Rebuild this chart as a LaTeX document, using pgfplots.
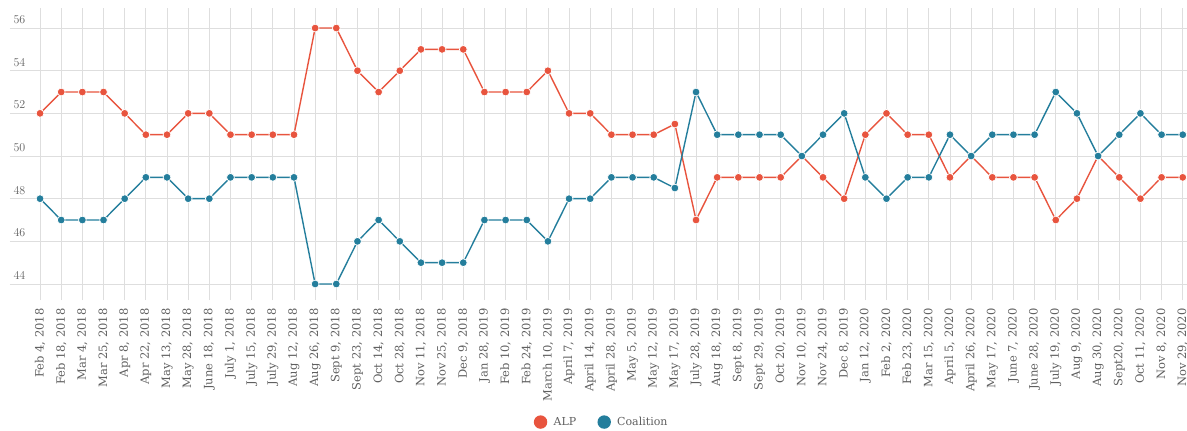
\documentclass[border=0pt]{standalone}
\usepackage{fontspec}
\setmainfont{DejaVu Serif}
\usepackage{pgfplots}
\pgfplotsset{compat=1.18}
\definecolor{alp}{RGB}{232,84,62}
\definecolor{coal}{RGB}{36,126,156}
\definecolor{gridc}{RGB}{222,222,222}
\definecolor{lab}{RGB}{95,95,95}
\begin{document}
\begin{tikzpicture}
\path[use as bounding box] (-10pt,-131pt) rectangle (1177pt,300pt);
\begin{axis}[
  at={(0,0)}, anchor=south west,
  scale only axis, width=1177pt, height=292pt,
  xmin=-1.42, xmax=54.2, ymin=43.25, ymax=56.94,
  axis line style={draw=none},
  major tick length=0pt,
  xmajorgrids, ymajorgrids,
  grid style={gridc, line width=0.8pt},
  ytick={44,46,48,50,52,54,56},
  yticklabel style={anchor=south west, xshift=0pt, yshift=1pt, font=\fontsize{11.5}{13}\selectfont, text=lab},
  xtick={0,...,54},
  xticklabels={{Feb 4, 2018},{Feb 18, 2018},{Mar 4, 2018},{Mar 25, 2018},{Apr 8, 2018},{Apr 22, 2018},{May 13, 2018},{May 28, 2018},{June 18, 2018},{July 1, 2018},{July 15, 2018},{July 29, 2018},{Aug 12, 2018},{Aug 26, 2018},{Sept 9, 2018},{Sept 23, 2018},{Oct 14, 2018},{Oct 28, 2018},{Nov 11, 2018},{Nov 25, 2018},{Dec 9, 2018},{Jan 28, 2019},{Feb 10, 2019},{Feb 24, 2019},{March 10, 2019},{April 7, 2019},{April 14, 2019},{April 28, 2019},{May 5, 2019},{May 12, 2019},{May 17, 2019},{July 28, 2019},{Aug 18, 2019},{Sept 8, 2019},{Sept 29, 2019},{Oct 20, 2019},{Nov 10, 2019},{Nov 24, 2019},{Dec 8, 2019},{Jan 12, 2020},{Feb 2, 2020},{Feb 23, 2020},{Mar 15, 2020},{April 5, 2020},{April 26, 2020},{May 17, 2020},{June 7, 2020},{June 28, 2020},{July 19, 2020},{Aug 9, 2020},{Aug 30, 2020},{Sept20, 2020},{Oct 11, 2020},{Nov 8, 2020},{Nov 29, 2020}},
  xticklabel style={rotate=90, anchor=east, yshift=0pt, xshift=-5pt, font=\fontsize{11.5}{13}\selectfont, text=lab},
  legend style={at={(0.503,-0.418)}, anchor=center, draw=none, fill=none,
    font=\fontsize{11}{13}\selectfont, text=lab, legend columns=2,
    /tikz/every odd column/.append style={column sep=5pt},
    /tikz/every even column/.append style={column sep=20pt}},
  legend image code/.code={\draw[#1, mark size=6pt, mark options={draw=none}] plot coordinates {(0.2cm,0cm)};},
  every axis plot/.append style={line width=1.4pt, mark=*, mark size=3.9pt},
]
\addplot[alp, mark options={fill=alp, draw=white, line width=0.7pt}] coordinates {
(0,52)(1,53)(2,53)(3,53)(4,52)(5,51)(6,51)(7,52)(8,52)(9,51)(10,51)(11,51)(12,51)
(13,56)(14,56)(15,54)(16,53)(17,54)(18,55)(19,55)(20,55)(21,53)(22,53)(23,53)(24,54)
(25,52)(26,52)(27,51)(28,51)(29,51)(30,51.5)(31,47)(32,49)(33,49)(34,49)(35,49)
(36,50)(37,49)(38,48)(39,51)(40,52)(41,51)(42,51)(43,49)(44,50)(45,49)(46,49)(47,49)
(48,47)(49,48)(50,50)(51,49)(52,48)(53,49)(54,49)};
\addlegendentry{ALP}
\addplot[coal, mark options={fill=coal, draw=white, line width=0.7pt}] coordinates {
(0,48)(1,47)(2,47)(3,47)(4,48)(5,49)(6,49)(7,48)(8,48)(9,49)(10,49)(11,49)(12,49)
(13,44)(14,44)(15,46)(16,47)(17,46)(18,45)(19,45)(20,45)(21,47)(22,47)(23,47)(24,46)
(25,48)(26,48)(27,49)(28,49)(29,49)(30,48.5)(31,53)(32,51)(33,51)(34,51)(35,51)
(36,50)(37,51)(38,52)(39,49)(40,48)(41,49)(42,49)(43,51)(44,50)(45,51)(46,51)(47,51)
(48,53)(49,52)(50,50)(51,51)(52,52)(53,51)(54,51)};
\addlegendentry{Coalition}
\end{axis}
\end{tikzpicture}
\end{document}
